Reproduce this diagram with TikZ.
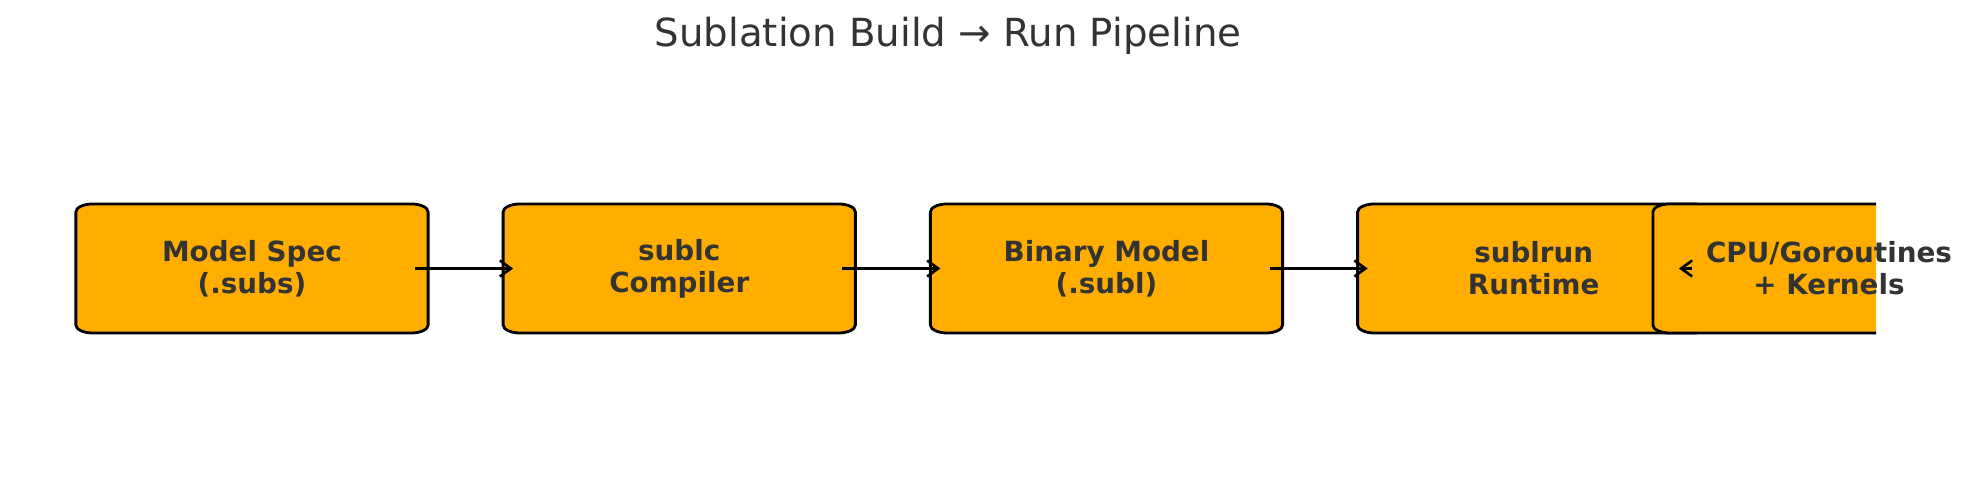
\documentclass[tikz,border=0pt]{standalone}
\usepackage{fontspec}
\setmainfont{DejaVu Sans}
\usepackage{xcolor}
\definecolor{Amber}{HTML}{FFAE00}
\definecolor{Charcoal}{HTML}{333333}
\colorlet{cBox}{Amber}
\colorlet{cText}{Charcoal}
\usepackage{tikz}
\usetikzlibrary{calc, arrows.meta, backgrounds, positioning}
\tikzset{
	x = 0.01cm,
	y = 0.01cm,
	line width = .8pt,
	>={Straight Barb[length=0.11cm, width=0.16cm]},
	stage/.style={
		align=center,
		text=cText,
		font=\fontsize{7.9}{9.1}\selectfont\bfseries,
		minimum width=3.52cm,
		minimum height=1.29cm,
		inner sep=0pt,
		outer sep=0pt
	},
	stagebox/.style={
		draw=black,
		fill=cBox,
		line width=.8pt
	},
	edge/.style={
		->,
		line width=.75pt
	}
}

\begin{document}
\begin{tikzpicture}
		\useasboundingbox (0,0) rectangle (1972,480);
% ---
% title
% ---
\node[text=cText, font=\fontsize{11}{13}\selectfont] at (948,444) (title) {Sublation Build → Run Pipeline};

% ---
% stages
% ---
\node[stage] at (252,211.5) (spec) {Model Spec\\(.subs)};
\node[stage, right=0.75cm of spec] (sublc) {sublc\\Compiler};
\node[stage, right=0.75cm of sublc] (binary) {Binary Model\\(.subl)};
\node[stage, right=0.75cm of binary] (sublrun) {sublrun\\Runtime};
\node[stage] at (1829,211.5) (cpu) {CPU/Goroutines\\+ Kernels};

\begin{scope}[on background layer]
\clip (0,0) rectangle (1876,480);
\foreach \n in {spec, sublc, binary, sublrun, cpu}
	\path[stagebox] ([yshift=0.08cm]\n.south west) -- ([yshift=-0.08cm]\n.north west)
		arc[start angle=180, end angle=90, x radius=0.17cm, y radius=0.08cm]
		-- ([xshift=-0.17cm]\n.north east)
		arc[start angle=90, end angle=0, x radius=0.17cm, y radius=0.08cm]
		-- ([yshift=0.08cm]\n.south east)
		arc[start angle=0, end angle=-90, x radius=0.17cm, y radius=0.08cm]
		-- ([xshift=0.17cm]\n.south west)
		arc[start angle=270, end angle=180, x radius=0.17cm, y radius=0.08cm]
		-- cycle;
\end{scope}

\draw[edge] ([xshift=-0.13cm]spec.east) to ([xshift=0.1cm]sublc.west);
\draw[edge] ([xshift=-0.13cm]sublc.east) to ([xshift=0.1cm]binary.west);
\draw[edge] ([xshift=-0.13cm]binary.east) to ([xshift=0.1cm]sublrun.west);
\draw[edge] ([xshift=-0.18cm]sublrun.east) to ([xshift=0.26cm]cpu.west);
	\end{tikzpicture}
\end{document}
